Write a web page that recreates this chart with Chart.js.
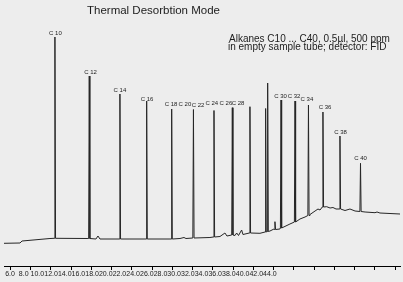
<!DOCTYPE html>
<html>
<head>
<meta charset="utf-8">
<script src="https://cdn.jsdelivr.net/npm/chart.js@4.4.0/dist/chart.umd.min.js"></script>
<style>
  html, body { margin: 0; padding: 0; background: #ededed; }
  #wrap { width: 403px; height: 282px; }
</style>
</head>
<body>
<div id="wrap"><canvas id="chart"></canvas></div>
<script>
// retention time in minutes, detector response in arbitrary units
const xTickLabels = ['6.0', '8.0', '10.0', '12.0', '14.0', '16.0', '18.0', '20.0', '22.0', '24.0',
  '26.0', '28.0', '30.0', '32.0', '34.0', '36.0', '38.0', '40.0', '42.0', '44.0'];
const xTickValues = [6, 8, 10, 12, 14, 16, 18, 20, 22, 24, 26, 28, 30, 32, 34, 36, 38, 40, 42, 44];

// baseline of the trace (drift and small bumps)
const baseTimes = [5.38, 6.96, 7.16, 9.92, 13.67, 14.46, 14.66, 14.86, 17.82, 21.77, 22.76, 23.16, 23.35,
  25.72, 26.71, 27.20, 27.40, 28.19, 28.36, 28.54, 28.85, 28.98, 30.66, 31.65, 32.04, 32.24, 32.63,
  33.62, 34.61, 35.11, 35.60, 36.10, 36.39, 36.59, 37.25, 37.58, 37.87, 38.17, 39.06, 39.55, 40.05,
  41.04, 42.02, 42.22, 42.51, 44.49];
const baseValues = [22.7, 23, 25, 27.5, 27.5, 27, 30, 27, 27, 27, 27.5, 28.5, 27.5,
  28.5, 29.5, 33, 30, 30.5, 33, 30.5, 36, 31.5, 32.7, 35, 37, 36.5, 37,
  42, 47, 49, 51.5, 55, 57, 56, 59.3, 58, 58.5, 57, 55.5, 57, 55,
  54, 53.3, 54, 53, 52];

// peaks: apex time, apex height, baseline under the peak
const peakTimes = [10.41, 13.80, 16.83, 19.47, 21.94, 24.09, 26.12, 27.93, 29.67, 31.22, 31.42, 32.14,
  32.74, 34.12, 35.45, 36.88, 38.56, 40.59];
const peakHeights = [229, 190, 172, 165, 157, 156.5, 155.5, 158.3, 159.3, 157.5, 183, 44.3,
  166, 165, 161, 154, 130, 102.7];
const peakBase = [27.7, 27.5, 27, 27, 27, 28, 29, 31, 33, 34, 34.5, 36.5,
  38, 44, 50.5, 59, 57, 54.5];

// peak labels as placed on the original plot
const labelNames = ['C 10', 'C 12', 'C 14', 'C 16', 'C 18', 'C 20', 'C 22', 'C 24', 'C 26', 'C 28',
  'C 30', 'C 32', 'C 34', 'C 36', 'C 38', 'C 40'];
const labelTimes = [10.46, 13.92, 16.83, 19.50, 21.87, 23.25, 24.54, 25.90, 27.30, 28.49,
  32.69, 34.02, 35.30, 37.08, 38.61, 40.59];
const labelHeights = [233, 194, 175.5, 167, 162, 162, 161, 163, 163, 163,
  170, 170, 167, 159, 134, 108];

const trace = baseTimes.map((t, i) => ({ x: t, y: baseValues[i] }));
peakTimes.forEach((t, i) => {
  trace.push({ x: t - 0.06, y: peakBase[i] });
  trace.push({ x: t, y: peakHeights[i] });
  trace.push({ x: t + 0.06, y: peakBase[i] });
});
trace.sort((a, b) => a.x - b.x);

const FONT = '"Liberation Sans", Arial, sans-serif';

const textPlugin = {
  id: 'texts',
  beforeDraw(chart) {
    const ctx = chart.ctx;
    ctx.save();
    ctx.fillStyle = '#ededed';
    ctx.fillRect(0, 0, chart.width, chart.height);
    ctx.restore();
  },
  afterDatasetsDraw(chart) {
    const { ctx, scales: { x, y } } = chart;
    ctx.save();
    ctx.fillStyle = '#1c1c1c';
    ctx.textBaseline = 'alphabetic';
    ctx.textAlign = 'left';
    ctx.font = '11.5px ' + FONT;
    ctx.fillText('Thermal Desorbtion Mode', 87, 13.5);
    ctx.font = '10px ' + FONT;
    ctx.fillText('Alkanes C10 ... C40, 0.5\u00b5l, 500 ppm', 229, 42);
    ctx.fillText('in empty sample tube; detector: FID', 228, 49.5);

    ctx.font = '6px ' + FONT;
    ctx.textAlign = 'center';
    ctx.textBaseline = 'middle';
    labelNames.forEach((name, i) => {
      ctx.fillText(name, x.getPixelForValue(labelTimes[i]), y.getPixelForValue(labelHeights[i]));
    });
    ctx.restore();
  }
};

new Chart(document.getElementById('chart'), {
  type: 'line',
  data: {
    datasets: [{
      data: trace,
      borderColor: '#262626',
      borderWidth: 1,
      pointRadius: 0,
      tension: 0,
      fill: false
    }]
  },
  options: {
    responsive: true,
    maintainAspectRatio: false,
    animation: false,
    layout: { padding: { top: 16, left: 4, right: 3, bottom: 3.6 } },
    plugins: { legend: { display: false }, tooltip: { enabled: false } },
    scales: {
      x: {
        type: 'linear',
        weight: 0,
        min: 5.38,
        max: 44.49,
        afterBuildTicks: scale => { scale.ticks = xTickValues.map(v => ({ value: v })); },
        afterFit: scale => { scale.height = 4; },
        ticks: { display: false },
        grid: { drawOnChartArea: false, drawTicks: true, tickLength: 4, color: '#000' },
        border: { display: true, color: '#000', width: 1 }
      },
      x2: {
        type: 'linear',
        position: 'bottom',
        weight: 1,
        min: -0.44,
        max: 28.51,
        afterBuildTicks: scale => { scale.ticks = xTickLabels.map((_, i) => ({ value: i })); },
        ticks: {
          padding: 0,
          autoSkip: false,
          maxRotation: 0,
          color: '#1c1c1c',
          font: { family: FONT, size: 7 },
          callback: (v, i) => xTickLabels[i]
        },
        grid: { display: false, drawTicks: false, tickLength: 0 },
        border: { display: false }
      },
      y: {
        display: false,
        min: 0,
        max: 250
      }
    }
  },
  plugins: [textPlugin]
});
</script>
</body>
</html>
